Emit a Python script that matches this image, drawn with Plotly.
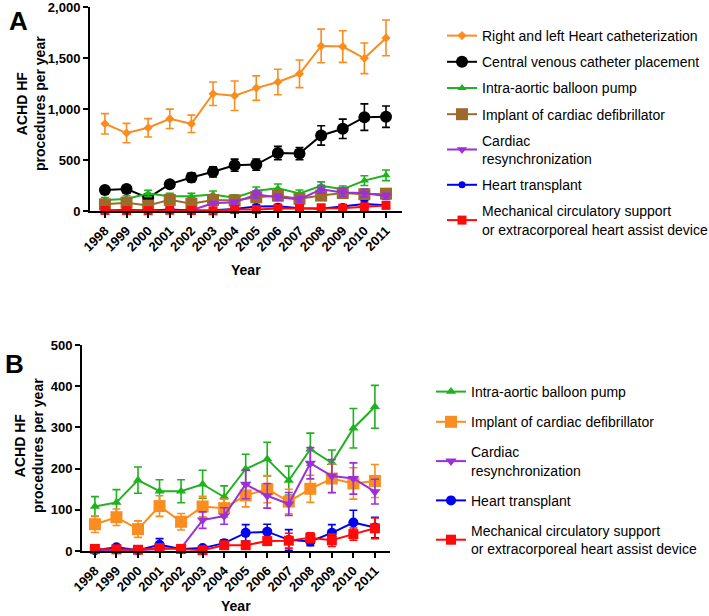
import plotly.graph_objects as go

W, H = 709, 616

years = list(range(1998, 2012))
year_labels = [str(y) for y in years]

# Panel A series
cath = [855, 764, 816, 904, 855, 1150, 1130, 1205, 1265, 1345, 1618, 1612, 1497, 1697]
cath_err = [100, 95, 90, 95, 85, 115, 145, 120, 125, 135, 165, 155, 150, 175]
cvc = [205, 215, 128, 263, 329, 384, 449, 455, 569, 563, 741, 806, 920, 925]
cvc_err = [30, 35, 40, 30, 45, 50, 60, 55, 65, 60, 95, 95, 130, 105]

# Shared series (both panels)
iabp = [108, 118, 172, 145, 145, 162, 131, 199, 223, 171, 247, 214, 298, 350]
iabp_err = [24, 31, 32, 28, 28, 34, 27, 36, 41, 35, 39, 31, 48, 52]
icd = [65, 82, 53, 109, 71, 108, 104, 135, 150, 120, 151, 176, 164, 170]
icd_err = [20, 20, 20, 25, 20, 25, 22, 28, 33, 30, 33, 35, 38, 40]
crt = [2, 3, 2, 4, 7, 75, 85, 162, 134, 114, 213, 182, 176, 144]
crt_err = [3, 3, 3, 4, 5, 20, 20, 35, 30, 28, 38, 40, 38, 30]
htx = [2, 9, 2, 15, 5, 7, 19, 44, 47, 27, 23, 44, 69, 57]
htx_err = [3, 5, 3, 15, 5, 5, 8, 20, 18, 25, 10, 20, 30, 25]
mcs = [5, 4, 3, 7, 5, 2, 14, 14, 24, 25, 32, 26, 41, 55]
mcs_err = [4, 4, 3, 5, 4, 3, 6, 6, 10, 18, 12, 15, 15, 25]

names = {
    "cath": "Right and left Heart catheterization",
    "cvc": "Central venous catheter placement",
    "iabp": "Intra-aortic balloon pump",
    "icd": "Implant of cardiac defibrillator",
    "crt": "Cardiac<br>resynchronization",
    "htx": "Heart transplant",
    "mcs": "Mechanical circulatory support<br>or extracorporeal heart assist device",
}

ORANGE = "#F98D1F"
BLACK = "#000000"
GREEN = "#1FB21F"
BROWN = "#9C6A2B"
PURPLE = "#9B30D9"
BLUE = "#0000F0"
RED = "#FF0A0A"

fig = go.Figure()

def add(x, y, err, name, color, symbol, size, xa, ya, legend, group):
    fig.add_trace(go.Scatter(
        x=x, y=y, name=name, mode="lines+markers",
        line=dict(color=color, width=2),
        marker=dict(color=color, symbol=symbol, size=size, line=dict(width=0)),
        error_y=dict(type="data", array=err, visible=True, color=color,
                     thickness=1.6, width=4),
        xaxis=xa, yaxis=ya, legend=legend, legendgroup=group, cliponaxis=False,
    ))

# Panel A
add(years, cath, cath_err, names["cath"], ORANGE, "diamond", 7, "x", "y", "legend", "a1")
add(years, cvc, cvc_err, names["cvc"], BLACK, "circle", 12, "x", "y", "legend", "a2")
add(years, iabp, iabp_err, names["iabp"], GREEN, "triangle-up", 8, "x", "y", "legend", "a3")
add(years, icd, icd_err, names["icd"], BROWN, "square", 12, "x", "y", "legend", "a4")
add(years, crt, crt_err, names["crt"], PURPLE, "triangle-down", 9, "x", "y", "legend", "a5")
add(years, htx, htx_err, names["htx"], BLUE, "circle", 7, "x", "y", "legend", "a6")
add(years, mcs, mcs_err, names["mcs"], RED, "square", 9, "x", "y", "legend", "a7")

# Panel B
add(years, iabp, iabp_err, names["iabp"], GREEN, "triangle-up", 9, "x2", "y2", "legend2", "b1")
add(years, icd, icd_err, names["icd"], ORANGE, "square", 12, "x2", "y2", "legend2", "b2")
add(years, crt, crt_err, names["crt"], PURPLE, "triangle-down", 10, "x2", "y2", "legend2", "b3")
add(years, htx, htx_err, names["htx"], BLUE, "circle", 10, "x2", "y2", "legend2", "b4")
add(years, mcs, mcs_err, names["mcs"], RED, "square", 10, "x2", "y2", "legend2", "b5")

def px_x(p):
    return min(1.0, max(0.0, p / W))

def px_y(p):
    return min(1.0, max(0.0, (H - p) / H))

FAM = "Liberation Sans, Arial, sans-serif"
tickfont = dict(family=FAM, size=13, color="black", weight="bold")
axis_common = dict(showgrid=False, zeroline=False, showline=True, linecolor="black",
                   linewidth=2, ticks="outside", ticklen=5, tickwidth=2, tickcolor="black",
                   tickfont=tickfont, automargin=False, ticklabeloverflow="allow")

fig.update_layout(
    width=W, height=H,
    margin=dict(l=0, r=0, t=0, b=0, autoexpand=False),
    paper_bgcolor="white", plot_bgcolor="white",
    font=dict(family=FAM, color="black"),
    xaxis=dict(domain=[px_x(90), px_x(402)], range=[1997.31, 2011.74],
               tickvals=years, ticktext=year_labels, tickangle=-45,
               anchor="y", **axis_common),
    yaxis=dict(domain=[px_y(211), px_y(7)], range=[0, 2000],
               tickvals=[0, 500, 1000, 1500, 2000], tickformat=",",
               anchor="x", **axis_common),
    xaxis2=dict(domain=[px_x(82), px_x(390)], range=[1997.4, 2011.7],
                tickvals=years, ticktext=year_labels, tickangle=-45,
                anchor="y2", **axis_common),
    yaxis2=dict(domain=[px_y(551), px_y(345)], range=[0, 500],
                tickvals=[0, 100, 200, 300, 400, 500],
                anchor="x2", **axis_common),
    legend=dict(x=px_x(442), y=px_y(20), xanchor="left", yanchor="top",
                font=dict(size=14, family=FAM),
                traceorder="grouped", tracegroupgap=5, bgcolor="rgba(0,0,0,0)"),
    legend2=dict(x=px_x(431), y=px_y(376), xanchor="left", yanchor="top",
                 font=dict(size=14, family=FAM),
                 traceorder="grouped", tracegroupgap=9, bgcolor="rgba(0,0,0,0)"),
    showlegend=True,
)

bold = dict(family=FAM, color="black", weight="bold")
annots = [
    dict(text="A", x=px_x(7), y=px_y(21), xanchor="left", yanchor="middle",
         font=dict(size=26, **bold)),
    dict(text="B", x=px_x(3), y=px_y(364), xanchor="left", yanchor="middle",
         font=dict(size=26, **bold)),
    dict(text="ACHD HF<br>procedures per year", x=px_x(31), y=px_y(104),
         textangle=-90, xanchor="center", yanchor="middle", font=dict(size=14, **bold)),
    dict(text="ACHD HF<br>procedures per year", x=px_x(29), y=px_y(446),
         textangle=-90, xanchor="center", yanchor="middle", font=dict(size=14, **bold)),
    dict(text="Year", x=px_x(246), y=px_y(270), xanchor="center", yanchor="middle",
         font=dict(size=14, **bold)),
    dict(text="Year", x=px_x(236), y=px_y(606), xanchor="center", yanchor="middle",
         font=dict(size=14, **bold)),
]
for a in annots:
    a.update(xref="paper", yref="paper", showarrow=False)
fig.update_layout(annotations=annots)

fig.write_html("out.html", config={"displayModeBar": False},
               post_script="document.body.style.margin='0';")
